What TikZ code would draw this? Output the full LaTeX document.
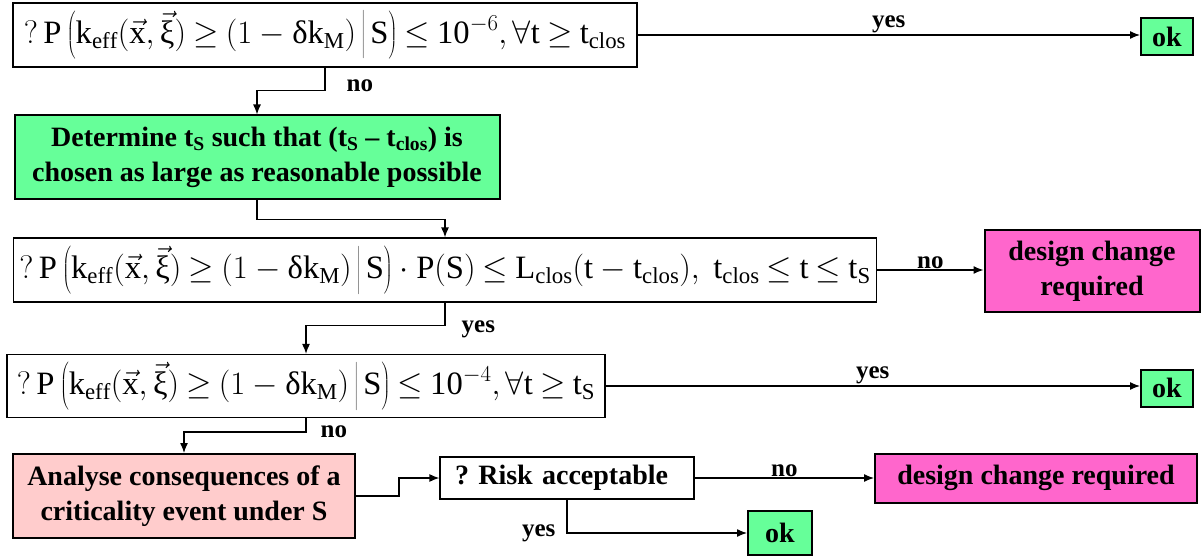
\RequirePackage{fix-cm}
\documentclass[tikz,border=0pt]{standalone}
\usepackage{fontspec}
\setmainfont{Liberation Serif}
\usetikzlibrary{arrows.meta}

\definecolor{okgreen}{RGB}{102,255,153}
\definecolor{salmon}{RGB}{255,204,204}
\definecolor{alarm}{RGB}{255,102,204}

\newcommand{\keff}{\mathrm{k}_{\mathrm{eff}}}
\newcommand{\tsub}[1]{\mathrm{t}_{\mathrm{#1}}}
\newcommand{\condprob}{\mathrm{?\,P}\left(\keff(\vec{\mathrm{x}},\vec{\mbox{ξ}})\geq(1-\mbox{δ}\mathrm{k}_{\mathrm{M}})\,\middle|\,\mathrm{S}\right)}
\newcommand{\tightrel}{\thickmuskip=4mu plus 2mu\relax}

\tikzset{
  formula/.style={draw, line width=1.2pt, fill=white, inner sep=0pt,
    font=\fontsize{32.6}{38}\selectfont\tightrel},
  action/.style={draw, line width=2pt, inner sep=0pt, align=center,
    font=\fontsize{28}{35}\selectfont\bfseries},
  lbl/.style={font=\fontsize{25}{30}\selectfont\bfseries, inner sep=1pt},
  arr/.style={line width=1.3pt, -{Latex[length=10pt,width=8pt]}}
}

\begin{document}
\begin{tikzpicture}[x=1pt, y=-1pt]
  \useasboundingbox (0,0) rectangle (1202,559);
  % questions
  \node[formula, minimum width=624pt, minimum height=64pt] (q1) at (325,35)
    {$\condprob\leq\mathrm{10}^{-6},\forall\mathrm{t}\geq\tsub{clos}$};
  \node[formula, minimum width=863pt, minimum height=64pt] (q3) at (445,270)
    {$\condprob\cdot\mathrm{P}(\mathrm{S})\leq\mathrm{L}_{\mathrm{clos}}(\mathrm{t}-\tsub{clos}),\ \tsub{clos}\leq\mathrm{t}\leq\tsub{S}$};
  \node[formula, minimum width=598pt, minimum height=63pt] (q4) at (306,386)
    {$\condprob\leq\mathrm{10}^{-4},\forall\mathrm{t}\geq\tsub{S}$};
  \node[draw, line width=1.2pt, text width=224pt, align=left, inner xsep=15pt, minimum height=42pt,
    font=\fontsize{28}{35}\selectfont\bfseries] (risk) at (567,478) {?\ Risk acceptable};
  % actions and results
  \node[action, fill=okgreen, minimum width=485pt, minimum height=83pt] (det) at (257,157)
    {Determine t\textsubscript{S} such that (t\textsubscript{S} -- t\textsubscript{clos}) is\\
     chosen as large as reasonable possible};
  \node[action, fill=salmon, minimum width=342pt, minimum height=84pt] (ana) at (184,496)
    {Analyse consequences of a\\criticality event under S};
  \node[action, fill=alarm, minimum width=215pt, minimum height=82pt] (dc1) at (1092,271)
    {design change\\required};
  \node[action, fill=alarm, minimum width=322pt, minimum height=49pt] (dc2) at (1036,478)
    {design change required};
  \node[action, fill=okgreen, minimum width=52pt, minimum height=37pt] (ok1) at (1167,37) {ok};
  \node[action, fill=okgreen, minimum width=52pt, minimum height=37pt] (ok2) at (1167,388) {ok};
  \node[action, fill=okgreen, minimum width=64pt, minimum height=44pt] (ok3) at (780,533) {ok};
  % connectors
  \draw[arr] (q1.east) -- (q1.east -| ok1.west) node[lbl, midway, above] {yes};
  \draw[arr] (q1.south) -- ++(0,23) node[lbl, anchor=west, xshift=20pt, yshift=5pt] {no}
    -| (det.north);
  \draw[arr] (det.south) -- ++(0,20) -| (q3.north);
  \draw[arr] (q3.east) -- (q3.east -| dc1.west) node[lbl, midway, above] {no};
  \draw[arr] (q3.south) -- ++(0,23) node[lbl, anchor=west, xshift=15pt, yshift=-4pt] {yes}
    -| (q4.north);
  \draw[arr] (q4.east) -- (q4.east -| ok2.west) node[lbl, midway, above] {yes};
  \draw[arr] (q4.south) -- ++(0,14) node[lbl, anchor=west, xshift=13pt] {no}
    -| (ana.north);
  \draw[arr] (ana.east) -- ++(43,0) |- (risk.west);
  \draw[arr] (risk.east) -- (dc2.west) node[lbl, midway, above] {no};
  \draw[arr] (risk.south) |- (ok3.west) node[lbl, pos=0.5, anchor=east, xshift=-10pt] {yes};
\end{tikzpicture}
\end{document}
